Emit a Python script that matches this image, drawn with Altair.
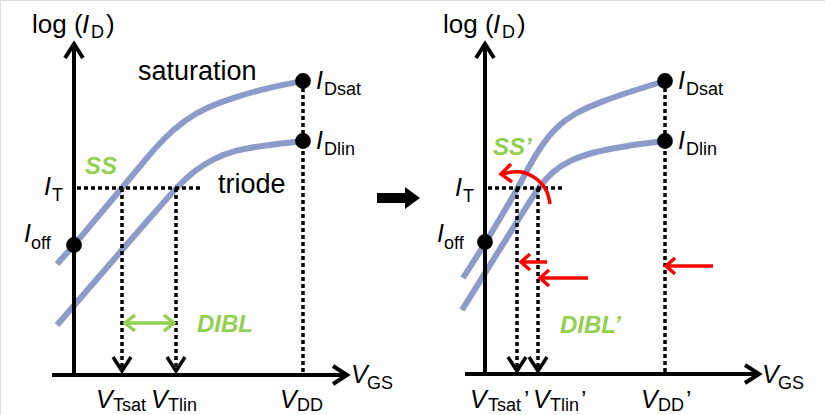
import altair as alt
import pandas as pd

W, H = 825, 415
FONT = "Liberation Sans"
BLUE = "#8c9bca"
GREEN = "#92d050"
RED = "#ff0000"

# ---- I-V curves (figure units: x = V_GS position, y = log(I_D) position, y downward)
sat_left = [(57, 264), (75, 244), (100, 214), (122, 188), (145, 160), (165, 137), (185, 120), (205, 108), (235, 97), (267, 88), (303, 81)]
lin_left = [(57, 325), (90, 287), (122, 250), (150, 218), (176, 188), (195, 170), (213, 159), (235, 150), (267, 145), (303, 141)]
sat_right = [(463, 278), (486, 242), (502, 215), (517, 190), (528, 168), (541, 146), (556, 127), (575, 113), (600, 102), (635, 90), (665, 81)]
lin_right = [(462, 310), (500, 249), (528, 204), (540, 186), (552, 172), (568, 161), (593, 152), (625, 146), (665, 141)]

# ---- marked points (I_off, I_Dsat, I_Dlin)
dots_x = [74, 303, 303, 485, 665, 665]
dots_y = [245, 81, 141, 242, 81, 141]

# ---- axes
axes = {
    "lv": [(74, 375), (74, 45)], "lva": [(65, 58), (74, 44), (83, 58)],
    "lh": [(52, 375), (346, 375)], "lha": [(333, 366), (347, 375), (333, 384)],
    "rv": [(485, 374), (485, 45)], "rva": [(476, 58), (485, 44), (494, 58)],
    "rh": [(465, 374), (758, 374)], "rha": [(745, 365), (759, 374), (745, 383)],
}
# ---- dotted guide lines
dotted = {
    "d1": [(77, 188), (200, 188)], "d2": [(122, 188), (122, 369)], "d3": [(176, 188), (176, 369)], "d4": [(303, 81), (303, 374)],
    "d5": [(488, 188), (562, 188)], "d6": [(517, 188), (517, 369)], "d7": [(538, 188), (538, 369)], "d8": [(665, 81), (665, 374)],
}
chevrons = {
    "c1": [(113, 357), (122, 371), (131, 357)], "c2": [(167, 357), (176, 371), (185, 357)],
    "c3": [(508, 357), (517, 371), (526, 357)], "c4": [(529, 357), (538, 371), (547, 357)],
}
green_arrow = {
    "g1": [(125, 323), (174, 323)], "g2": [(135, 315), (125, 323), (135, 331)], "g3": [(164, 315), (174, 323), (164, 331)],
}
red_arrows = {
    "r1": [(521, 262), (547, 262)], "r1h": [(530, 254), (521, 262), (530, 270)],
    "r2": [(540, 278), (588, 278)], "r2h": [(549, 270), (540, 278), (549, 286)],
    "r3": [(666, 266), (713, 266)], "r3h": [(675, 258), (666, 266), (675, 274)],
    "r4h": [(511, 164), (501, 174), (512, 182)],
}
red_arc = [(550, 204), (547, 192), (541, 183), (532, 176), (522, 172), (512, 172), (503, 174)]

# ---- block arrow between panels
blk_x = [377, 405, 405.01, 420]
blk_top = [193, 193, 187, 198]
blk_bot = [203, 203, 209, 198]

# ---- text (x left, y baseline, text, size)
plain_text = [
    (32, 33, "log (", 26), (106, 33, ")", 26), (443, 33, "log (", 26), (517, 33, ")", 26),
    (138, 80, "saturation", 27), (218, 193, "triode", 27),
    (524, 408, "\u2019", 24), (581, 408, "\u2019", 24), (686, 408, "\u2019", 24),
]
italic_text = [
    (82, 33, "I", 26), (493, 33, "I", 26),
    (44, 195, "I", 25), (24, 242, "I", 25), (316, 89, "I", 25), (316, 149, "I", 25),
    (455, 196, "I", 25), (437, 242, "I", 25), (678, 89, "I", 25), (678, 149, "I", 25),
    (96, 408, "V", 25), (151, 408, "V", 25), (280, 408, "V", 25), (351, 383, "V", 25),
    (470, 408, "V", 25), (533, 408, "V", 25), (641, 408, "V", 25), (762, 383, "V", 25),
]
sub_text = [
    (91, 38, "D", 18), (502, 38, "D", 18),
    (52, 201, "T", 18), (31, 249, "off", 18), (324, 95, "Dsat", 18), (324, 155, "Dlin", 18),
    (463, 202, "T", 18), (444, 249, "off", 18), (686, 95, "Dsat", 18), (686, 155, "Dlin", 18),
    (113, 411, "Tsat", 18), (168, 411, "Tlin", 18), (297, 411, "DD", 18), (367, 389, "GS", 18),
    (488, 411, "Tsat", 18), (550, 411, "Tlin", 18), (658, 411, "DD", 18), (778, 389, "GS", 18),
]
green_text = [(85, 174, "SS", 24), (197, 332, "DIBL", 24), (493, 155, "SS\u2019", 24), (560, 333, "DIBL\u2019", 24)]

xs = alt.Scale(domain=[0, W], nice=False, zero=False)
ys = alt.Scale(domain=[0, H], nice=False, zero=False, reverse=True)


def poly_df(d):
    rows = []
    for k, pts in d.items():
        for i, (x, y) in enumerate(pts):
            rows.append({"id": k, "o": i, "x": x, "y": y})
    return pd.DataFrame(rows)


def lines(d, **mk):
    return alt.Chart(poly_df(d)).mark_line(**mk).encode(
        x=alt.X("x:Q", scale=xs, axis=None),
        y=alt.Y("y:Q", scale=ys, axis=None),
        detail="id:N",
        order="o:Q",
    )


def texts(rows, **mk):
    df = pd.DataFrame(rows, columns=["x", "y", "t", "s"])
    return alt.Chart(df).mark_text(font=FONT, align="left", baseline="alphabetic", **mk).encode(
        x=alt.X("x:Q", scale=xs, axis=None),
        y=alt.Y("y:Q", scale=ys, axis=None),
        text="t:N",
        size=alt.Size("s:Q", scale=None, legend=None),
    )


curves = lines({"sl": sat_left, "ll": lin_left, "sr": sat_right, "lr": lin_right},
               color=BLUE, strokeWidth=6, interpolate="basis", strokeCap="butt")
axis_l = lines(axes, color="black", strokeWidth=4, strokeCap="butt", strokeJoin="miter")
dot_l = lines(dotted, color="black", strokeWidth=3.5, strokeDash=[4, 3], strokeCap="butt")
chev_l = lines(chevrons, color="black", strokeWidth=3.5, strokeJoin="miter")
green_l = lines(green_arrow, color=GREEN, strokeWidth=3.5, strokeJoin="miter")
red_l = lines(red_arrows, color=RED, strokeWidth=3.5, strokeJoin="miter")
arc_l = lines({"arc": red_arc}, color=RED, strokeWidth=3.5, interpolate="cardinal")

dots = alt.Chart(pd.DataFrame({"x": dots_x, "y": dots_y})).mark_point(
    filled=True, color="black", opacity=1, size=250, shape="circle"
).encode(x=alt.X("x:Q", scale=xs, axis=None), y=alt.Y("y:Q", scale=ys, axis=None))

block = alt.Chart(pd.DataFrame({"x": blk_x, "y": blk_top, "y2": blk_bot})).mark_area(
    color="black", opacity=1
).encode(x=alt.X("x:Q", scale=xs, axis=None), y=alt.Y("y:Q", scale=ys, axis=None), y2="y2:Q")

chart = alt.layer(
    curves, dot_l, chev_l, axis_l, green_l, red_l, arc_l, dots, block,
    texts(plain_text, color="black"),
    texts(italic_text, color="black", fontStyle="italic"),
    texts(sub_text, color="black"),
    texts(green_text, color=GREEN, fontStyle="italic", fontWeight="bold"),
).properties(
    width=W, height=H, padding=0, autosize=alt.AutoSizeParams(type="none")
).configure_view(stroke=None).configure(background="white")

chart.save("out.html", embed_options={"renderer": "svg", "actions": False})
